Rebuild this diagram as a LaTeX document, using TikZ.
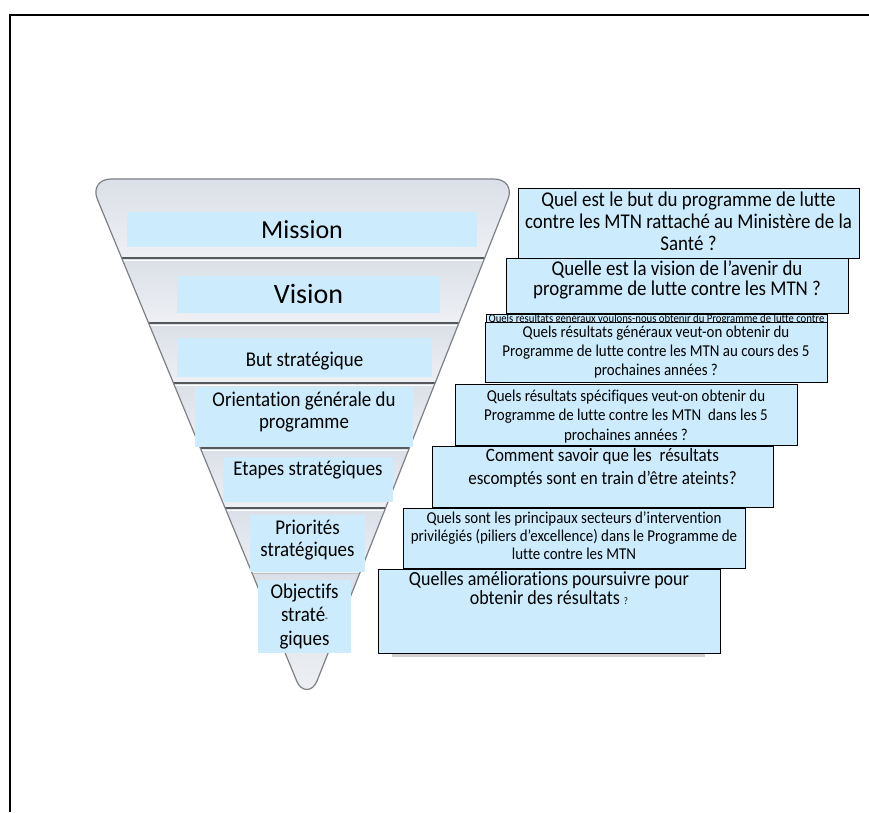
\documentclass[tikz,border=0pt]{standalone}
\usepackage{fontspec}
\setmainfont{Carlito}[FakeStretch=0.9, Ligatures=NoCommon]
\newfontfamily\plainfont{Carlito}[Ligatures=NoCommon]
\definecolor{lblue}{RGB}{204,236,253}
\definecolor{fedge}{RGB}{125,128,133}
\definecolor{fbandA}{RGB}{219,223,231}
\definecolor{fbandB}{RGB}{238,240,244}
\definecolor{sepc}{RGB}{85,88,92}
\newcommand\fsz[2]{\fontsize{#1}{#2}\selectfont\lineskiplimit=-100pt\relax}
\newcommand\tr[1]{\rule{0pt}{#1pt}}
\begin{document}
\begin{tikzpicture}[x=1pt,y=-1pt,
 lbox/.style={fill=lblue, inner sep=0pt, outer sep=0pt, anchor=north west},
 qbox/.style={fill=lblue, draw=black, line width=1pt, inner sep=0pt, outer sep=0pt, anchor=north west},
 txt/.style={inner sep=0pt, outer sep=0pt, align=center, text=black},
 sepline/.style={draw=sepc, line width=1.3pt},
 faintline/.style={draw=black!25, line width=1.2pt},
 hiline/.style={draw=white, line width=1.2pt},
 band/.style={top color=fbandA, bottom color=fbandB},
]
\useasboundingbox (0,0) rectangle (869,812);
\fill[white] (0,0) rectangle (869,812);
% frame
\draw[line width=2pt] (10,812) -- (10,14.4);
\draw[line width=1.7pt] (9,15.3) -- (869,15.3);
% funnel
\def\funnel{(111,179) -- (494,179) .. controls (506.1,179) and (512.4,188.2) .. (507.9,199.4) -- (317,681) .. controls (312.5,692.3) and (301.3,692.3) .. (296.7,681) -- (97.4,199.3) .. controls (92.8,188.1) and (98.9,179) .. (111,179) -- cycle}
\begin{scope}
\clip \funnel;
\shade[band] (0,179) rectangle (869,258);
\shade[band] (0,258) rectangle (869,323);
\shade[band] (0,323) rectangle (869,383);
\shade[band] (0,383) rectangle (869,448);
\shade[band] (0,448) rectangle (869,508);
\shade[band] (0,508) rectangle (869,573);
\shade[band] (0,573) rectangle (869,700);
\draw[sepline] (0,258) -- (869,258);
\draw[hiline] (0,260.3) -- (869,260.3);
\draw[sepline] (0,323) -- (869,323);
\draw[hiline] (0,325.3) -- (869,325.3);
\draw[sepline] (0,383) -- (869,383);
\draw[hiline] (0,385.3) -- (869,385.3);
\draw[sepline] (0,448) -- (869,448);
\draw[hiline] (0,450.3) -- (869,450.3);
\draw[sepline] (0,508) -- (869,508);
\draw[hiline] (0,510.3) -- (869,510.3);
\draw[faintline] (0,573.5) -- (869,573.5);
\end{scope}
\draw[fedge, line width=1.2pt] \funnel;
% left label boxes
\node[lbox, minimum width=350pt, minimum height=35pt] (bm) at (127,212) {};
\node[lbox, minimum width=263pt, minimum height=37pt] (bv) at (177,276) {};
\node[lbox, minimum width=255pt, minimum height=39pt] (bb) at (177,338) {};
\node[lbox, minimum width=218pt, minimum height=60pt] (bo) at (195,387) {};
\node[lbox, minimum width=170pt, minimum height=45pt] (be) at (223,457) {};
\node[lbox, minimum width=115pt, minimum height=57pt] (bp) at (250,515) {};
\node[lbox, minimum width=93pt, minimum height=73pt] (bobj) at (258,580) {};
\node[txt, anchor=base, font=\plainfont\fsz{26}{30}] (tm) at (302,238.3) {Mission};
\node[txt, anchor=base, font=\plainfont\fsz{28}{32}] (tv) at (308.5,303.3) {Vision};
\node[txt, anchor=base, font=\fsz{21}{24}] (tb) at (304.5,366.7) {But stratégique};
\node[txt, anchor=north, font=\fsz{21}{21.6}] (to) at (304,385.7) {\tr{21}Orientation générale du\\programme};
\node[txt, anchor=base, font=\fsz{21}{24}] (te) at (308,475) {Etapes stratégiques};
\node[txt, anchor=north, font=\fsz{21}{22.7}] (tp) at (307.5,513) {\tr{21}Priorités\\stratégiques};
\node[txt, anchor=north, font=\fsz{21}{23.4}] (tobj) at (304.5,577.5) {\tr{21}Objectifs\\straté{\fontsize{10}{10}\selectfont -}\\giques};
% right question boxes
\fill[black!30, opacity=0.6] (392,653.5) rectangle (705,656.5);
\node[qbox, minimum width=341pt, minimum height=70pt] (q1) at (518,188) {};
\node[txt, anchor=north, font=\fsz{21}{21.7}] (t1) at (688.5,185.7) {\tr{21}Quel est le but du programme de lutte\\contre les MTN rattaché au Ministère de la\\Santé ?};
\node[qbox, minimum width=342pt, minimum height=55pt] (q2) at (506,258) {};
\node[txt, anchor=north, font=\fsz{21}{20.7}] (t2) at (677,254) {\tr{21}Quelle est la vision de l’avenir du\\programme de lutte contre les MTN ?};
\node[qbox, minimum width=341pt, minimum height=30pt] (q0) at (486,314) {};
\node[txt, anchor=base, font=\fsz{11.9}{13}] (t0) at (656.5,322.8) {Quels résultats généraux voulons-nous obtenir du Programme de lutte contre};
\node[qbox, minimum width=342pt, minimum height=60pt] (q3) at (485,322) {};
\node[txt, anchor=north, font=\fsz{16.6}{18.9}] (t3) at (656,320.7) {\tr{16.6}Quels résultats généraux veut-on obtenir du\\Programme de lutte contre les MTN au cours des 5\\prochaines années ?};
\node[qbox, minimum width=342pt, minimum height=61pt] (q4) at (455,384) {};
\node[txt, anchor=north, font=\fsz{16.6}{19.2}] (t4) at (626,385.1) {\tr{16.6}Quels résultats spécifiques veut-on obtenir du\\Programme de lutte contre les MTN\ \ dans les 5\\prochaines années ?};
\node[qbox, minimum width=341pt, minimum height=61pt] (q5) at (432,446) {};
\node[txt, anchor=north, font=\fsz{18.9}{22.3}] (t5) at (602.5,442.8) {\tr{18.9}Comment savoir que les\ \ résultats\\escomptés sont en train d’être ateints?};
\node[qbox, minimum width=342pt, minimum height=60pt] (q6) at (403,508) {};
\node[txt, anchor=north, font=\fsz{16.6}{18}] (t6) at (574,506.7) {\tr{16.6}Quels sont les principaux secteurs d’intervention\\privilégiés (piliers d’excellence) dans le Programme de\\lutte contre les MTN};
\node[qbox, minimum width=342pt, minimum height=84pt] (q7) at (378,569) {};
\node[txt, anchor=north, font=\fsz{20}{19.2}] (t7) at (549,565) {\tr{20}Quelles améliorations poursuivre pour\\obtenir des résultats {\fontsize{10}{10}\selectfont ?}};
\end{tikzpicture}
\end{document}
